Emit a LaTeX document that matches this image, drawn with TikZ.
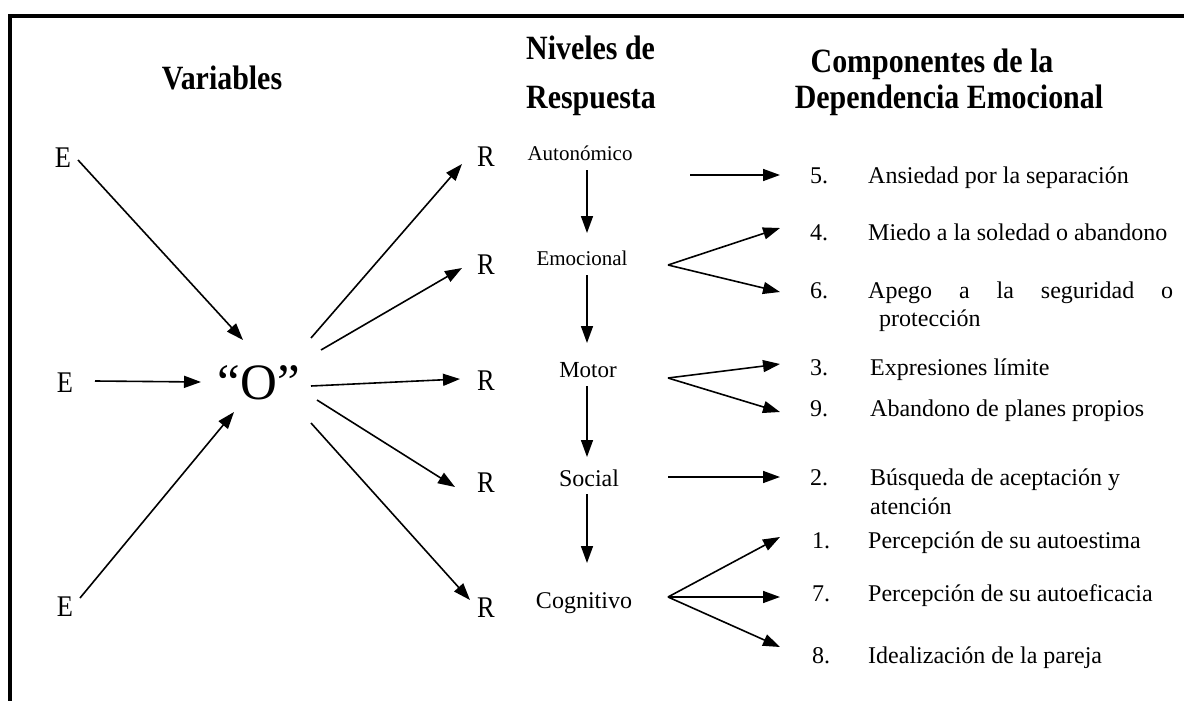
\documentclass[tikz,border=0pt]{standalone}
\usepackage{fontspec}
\setmainfont{Liberation Serif}
\newfontfamily\narrowserif{Liberation Serif}[FakeStretch=0.88]
\usetikzlibrary{arrows.meta,calc}
\begin{document}
\begin{tikzpicture}[x=1pt,y=-1pt,
  arr/.style={line width=1.6pt,-{Triangle[length=17pt,width=12pt]}},
  big/.style={font=\narrowserif\fontsize{30}{33}\selectfont, inner sep=0pt},
  bigO/.style={font=\fontsize{51}{55}\selectfont, inner sep=0pt},
  ttl/.style={font=\narrowserif\bfseries\fontsize{34}{37}\selectfont, inner sep=0pt, anchor=base},
  lvl/.style={font=\fontsize{21}{24}\selectfont, inner sep=0pt, anchor=base},
  lvlb/.style={lvl, font=\fontsize{24}{27}\selectfont},
  item/.style={font=\fontsize{24}{27}\selectfont, inner sep=0pt, anchor=base west},
]
\useasboundingbox (0,0) rectangle (1184,701);
\draw[line width=4pt] (10,701) -- (10,16) -- (1184,16);

% titles
\node[ttl] (tv) at (222,89) {Variables};
\node[ttl, anchor=base west] (tn1) at (526,60) {Niveles de};
\node[ttl, anchor=base west] (tn2) at (526,108) {Respuesta};
\node[ttl] (tc1) at (932,73) {Componentes de la};
\node[ttl] (tc2) at (949,108) {Dependencia Emocional};

% E, O, R
\node[big] (E1) at (63,158) {E};
\node[big] (E2) at (65,383) {E};
\node[big] (E3) at (65,607) {E};
\node[bigO] (O) at (259,383) {“O”};
\node[big] (R1) at (486,157) {R};
\node[big] (R2) at (486,265) {R};
\node[big] (R3) at (486,381) {R};
\node[big] (R4) at (486,483) {R};
\node[big] (R5) at (486,608) {R};

\draw[arr] ($(E1)+(15,2)$) -- ($(O)+(-16,-43)$);
\draw[arr] ($(E2)+(30,-2)$) -- ($(O)+(-58,-1)$);
\draw[arr] ($(E3)+(15,-9)$) -- ($(O)+(-25,29)$);
\draw[arr] ($(O)+(52,-45)$) -- ($(R1)+(-24,7)$);
\draw[arr] ($(O)+(62,-33)$) -- ($(R2)+(-24,3)$);
\draw[arr] ($(O)+(52,3)$) -- ($(R3)+(-26,-2)$);
\draw[arr] ($(O)+(58,17)$) -- ($(R4)+(-31,4)$);
\draw[arr] ($(O)+(52,40)$) -- ($(R5)+(-16,-8)$);

% levels
\node[lvl] (L1) at (580,160) {Autonómico};
\node[lvl] (L2) at (582,265) {Emocional};
\node[lvl, font=\fontsize{23}{26}\selectfont] (L3) at (588,377) {Motor};
\node[lvlb] (L4) at (589,486) {Social};
\node[lvlb] (L5) at (584,608) {Cognitivo};

\draw[arr] ($(L1.base)+(7,10)$) -- ($(L2.base)+(5,-32)$);
\draw[arr] ($(L2.base)+(5,10)$) -- ($(L3.base)+(-1,-34)$);
\draw[arr] ($(L3.base)+(-1,9)$) -- ($(L4.base)+(-2,-29)$);
\draw[arr] ($(L4.base)+(-2,8)$) -- ($(L5.base)+(3,-45)$);

% components
\node[item] (c5) at (810,183) {\makebox[58pt][l]{5.}Ansiedad por la separación};
\node[item] (c4) at (810,240) {\makebox[58pt][l]{4.}Miedo a la soledad o abandono};
\node[item] (c6) at (810,298) {\makebox[58pt][l]{6.}\makebox[305pt][s]{Apego a la seguridad o}};
\node[item] (c6b) at ($(c6.base west)+(69,28)$) {protección};
\node[item] (c3) at (810,375) {\makebox[60pt][l]{3.}Expresiones límite};
\node[item] (c9) at (810,416) {\makebox[60pt][l]{9.}Abandono de planes propios};
\node[item] (c2) at (810,485) {\makebox[60pt][l]{2.}Búsqueda de aceptación y};
\node[item] (c2b) at ($(c2.base west)+(60,29)$) {atención};
\node[item] (c1) at (812,548) {\makebox[56pt][l]{1.}Percepción de su autoestima};
\node[item] (c7) at (812,601) {\makebox[56pt][l]{7.}Percepción de su autoeficacia};
\node[item] (c8) at (812,663) {\makebox[56pt][l]{8.}Idealización de la pareja};

\draw[arr] ($(L1.base)+(110,15)$) -- ($(c5.base west)+(-30,-8)$);
\draw[arr] ($(L2.base)+(86,0)$) -- ($(c4.base west)+(-30,-12)$);
\draw[arr] ($(L2.base)+(86,0)$) -- ($(c6.base west)+(-30,-6)$);
\draw[arr] ($(L3.base)+(80,1)$) -- ($(c3.base west)+(-30,-11)$);
\draw[arr] ($(L3.base)+(80,1)$) -- ($(c9.base west)+(-30,-4)$);
\draw[arr] ($(L4.base)+(79,-9)$) -- ($(c2.base west)+(-30,-8)$);
\draw[arr] ($(L5.base)+(84,-11)$) -- ($(c1.base west)+(-32,-11)$);
\draw[arr] ($(L5.base)+(84,-11)$) -- ($(c7.base west)+(-32,-4)$);
\draw[arr] ($(L5.base)+(84,-11)$) -- ($(c8.base west)+(-32,-16)$);
\end{tikzpicture}
\end{document}
